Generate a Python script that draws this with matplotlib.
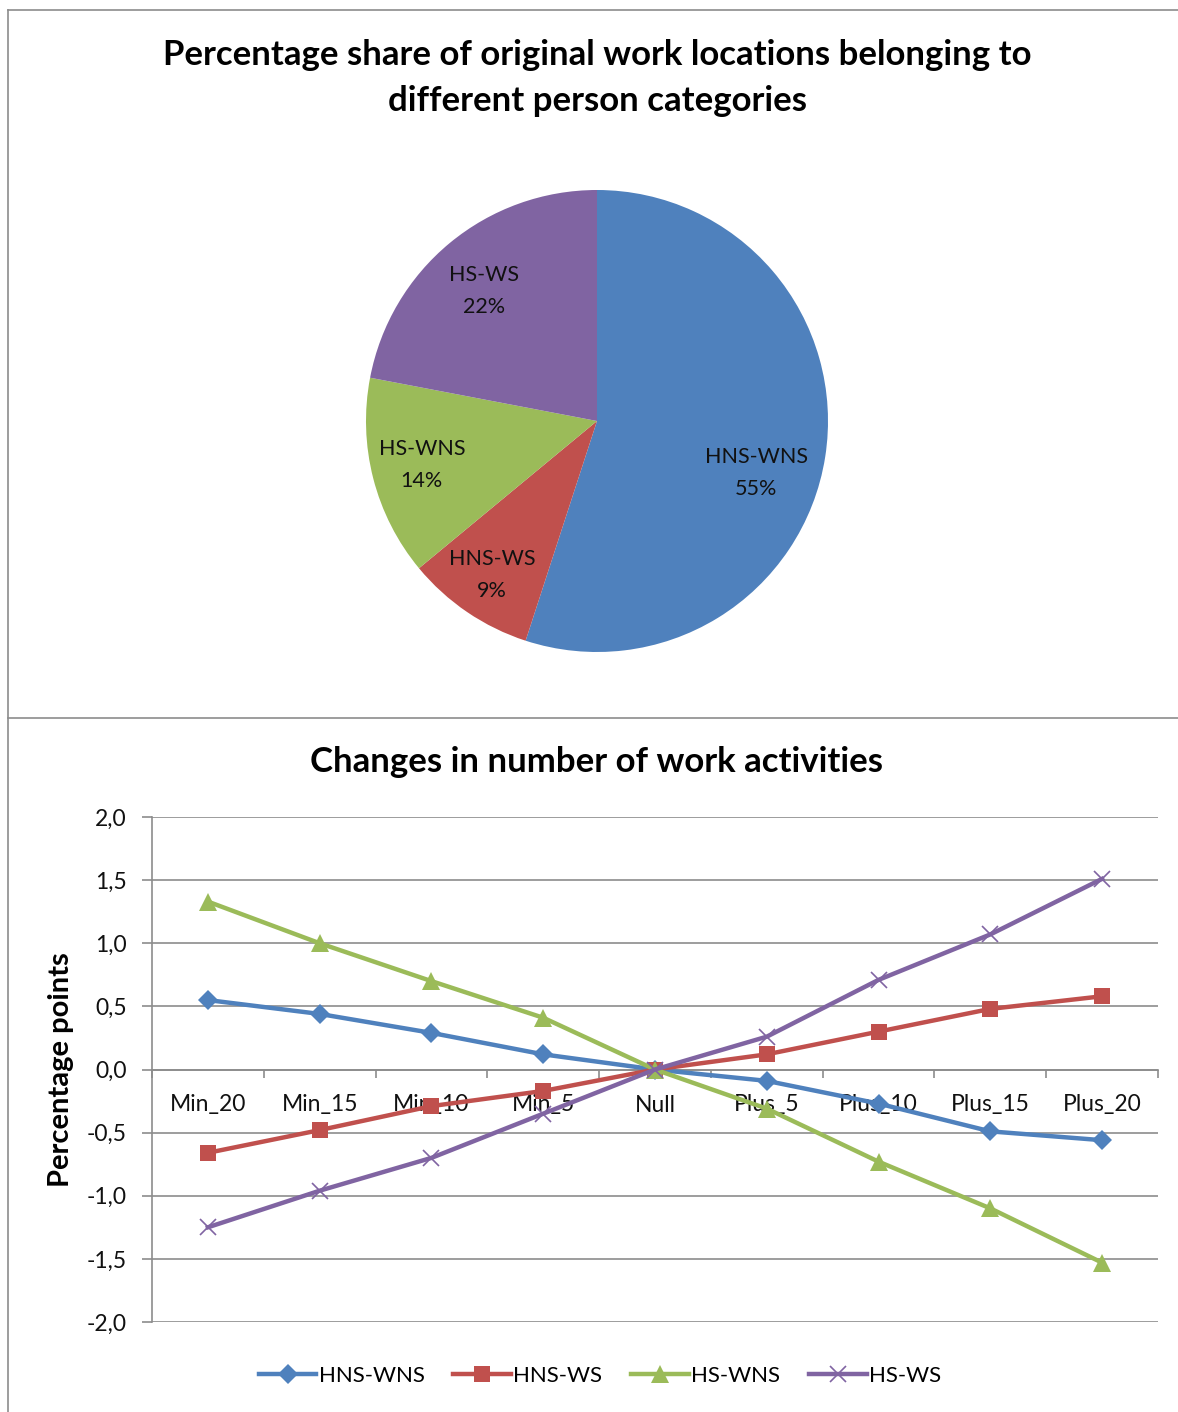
import numpy as np
import matplotlib
matplotlib.use("Agg")
import matplotlib.pyplot as plt
from matplotlib.lines import Line2D

plt.rcParams['font.family'] = ['Lato', 'DejaVu Sans']

# Pie chart data
pie_labels = ["HNS-WNS", "HNS-WS", "HS-WNS", "HS-WS"]
pie_shares = [55, 9, 14, 22]

# Line chart data
categories = ["Min_20", "Min_15", "Min_10", "Min_5", "Null",
              "Plus_5", "Plus_10", "Plus_15", "Plus_20"]
hns_wns = [0.55, 0.44, 0.29, 0.12, 0.0, -0.09, -0.27, -0.49, -0.56]
hns_ws = [-0.66, -0.48, -0.29, -0.17, 0.0, 0.12, 0.30, 0.48, 0.58]
hs_wns = [1.33, 1.00, 0.70, 0.41, 0.0, -0.31, -0.73, -1.10, -1.53]
hs_ws = [-1.25, -0.96, -0.70, -0.35, 0.0, 0.26, 0.71, 1.07, 1.51]
y_ticks = [-2.0, -1.5, -1.0, -0.5, 0.0, 0.5, 1.0, 1.5, 2.0]

colors = ["#4F81BD", "#C0504D", "#9BBB59", "#8064A2"]
W, H = 1178, 1412
fig = plt.figure(figsize=(W / 100, H / 100), dpi=100)

# Panel frame lines
frame_kw = dict(color="#8c8c8c", lw=1.2, transform=fig.transFigure)
fig.add_artist(Line2D([8 / W, 8 / W], [0, 1 - 10 / H], **frame_kw))
fig.add_artist(Line2D([8 / W, 1], [1 - 10 / H, 1 - 10 / H], **frame_kw))
fig.add_artist(Line2D([8 / W, 1], [1 - 718 / H, 1 - 718 / H], **frame_kw))

# ---- Pie chart ----
cx, cy, r = 597, 421, 231
ax_pie = fig.add_axes([(cx - r) / W, 1 - (cy + r) / H, 2 * r / W, 2 * r / H])
wedges, _ = ax_pie.pie(pie_shares, colors=colors, startangle=90, counterclock=False,
                       wedgeprops=dict(linewidth=0))
ax_pie.set_xlim(-1, 1)
ax_pie.set_ylim(-1, 1)
# data-label anchor points inside each slice (pie radius = 1)
label_pos = [(0.69, -0.225), (-0.455, -0.667), (-0.758, -0.19), (-0.489, 0.563)]
for (lx, ly), name, share in zip(label_pos, pie_labels, pie_shares):
    ax_pie.text(lx, ly, f"{name}\n{share}%",
                ha="center", va="center", fontsize=15.5, linespacing=1.75,
                color="#111111")

fig.text(597 / W, 1 - 78 / H,
         "Percentage share of original work locations belonging to\ndifferent person categories",
         ha="center", va="center", fontsize=25, fontweight="bold", linespacing=1.55)

# ---- Line chart ----
ax = fig.add_axes([152 / W, 1 - 1322 / H, 1006 / W, 505 / H])
x = np.arange(len(categories))
series = [hns_wns, hns_ws, hs_wns, hs_ws]
markers = ["D", "s", "^", "x"]
msizes = [10, 12, 13, 12]
for vals, c, m, ms, name in zip(series, colors, markers, msizes, pie_labels):
    kw = dict(markeredgewidth=1.2) if m == "x" else dict(markeredgewidth=0)
    ax.plot(x, vals, color=c, lw=3.2, marker=m, markersize=ms,
            markerfacecolor=c, markeredgecolor=c, label=name, zorder=3, **kw)

ax.set_xlim(-0.5, len(categories) - 0.5)
ax.set_ylim(-2.0, 2.0)
ax.set_yticks(y_ticks)
ax.set_yticklabels([f"{v:.1f}".replace(".", ",") for v in y_ticks])
ax.yaxis.grid(True, color="#8c8c8c", lw=1.2)
ax.set_axisbelow(True)
for s in ["top", "right"]:
    ax.spines[s].set_visible(False)
ax.spines["left"].set_color("#8c8c8c")
ax.spines["left"].set_linewidth(1.2)
ax.spines["bottom"].set_position(("data", 0))
ax.spines["bottom"].set_color("#8c8c8c")
ax.spines["bottom"].set_linewidth(1.2)
ax.tick_params(axis="y", length=7, width=1.2, color="#8c8c8c", pad=11,
               labelsize=16.5, labelcolor="#111111")
ax.set_xticks(x)
ax.set_xticklabels(categories)
ax.set_xticks(np.arange(-0.5, len(categories)), minor=True)
ax.tick_params(axis="x", which="major", length=0, pad=18, labelsize=16.5,
               labelcolor="#111111")
ax.tick_params(axis="x", which="minor", length=6, width=1.2, color="#8c8c8c",
               direction="out")
ax.set_ylabel("Percentage points", fontsize=21, fontweight="bold", labelpad=9)

fig.text(596 / W, 1 - 762 / H, "Changes in number of work activities",
         ha="center", va="center", fontsize=25, fontweight="bold")

handles, labels = ax.get_legend_handles_labels()
fig.legend(handles, labels, loc="center", bbox_to_anchor=(600 / W, 1 - 1376 / H),
           ncol=4, frameon=False, fontsize=16, handlelength=2.6,
           handletextpad=0.1, columnspacing=1.3, numpoints=1)

fig.savefig("out.png", dpi=100, facecolor="white")
